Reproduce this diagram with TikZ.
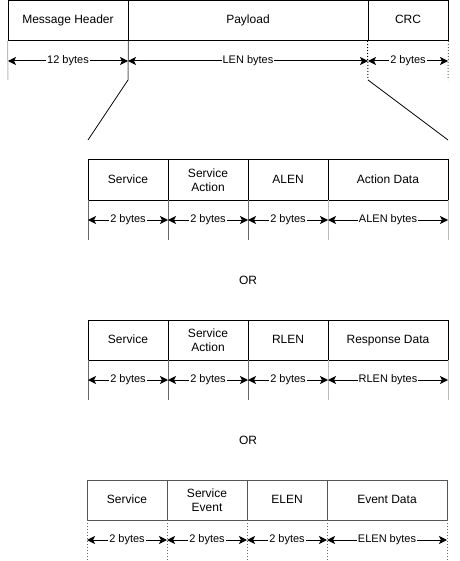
\documentclass[tikz,border=0pt]{standalone}
\usepackage{fontspec}
\setmainfont{Liberation Sans}
\usetikzlibrary{arrows.meta}
\definecolor{extdark}{HTML}{666666}
\definecolor{extlight}{HTML}{BBBBBB}
\definecolor{boxgray}{HTML}{555555}
\tikzset{
  cell/.style={draw=black, line width=1pt, minimum height=40pt, inner sep=1pt,
     font=\fontsize{12}{14}\selectfont, text height=8.6pt, text depth=2.6pt},
  cell2/.style={draw=black, line width=1pt, minimum height=40pt, inner sep=1pt, align=center,
     font=\fontsize{12}{14}\selectfont},
  cellg/.style={cell, draw=boxgray},
  cellgg/.style={cell2, draw=boxgray},
  dim/.style={line width=1pt, {Stealth[length=8pt,width=8pt,inset=2pt]}-{Stealth[length=8pt,width=8pt,inset=2pt]}},
  lbl/.style={fill=white, inner sep=1pt, font=\fontsize{11}{13}\selectfont, text height=8pt, text depth=2.4pt},
  extd/.style={draw=extdark, line width=1pt},
  extl/.style={draw=extlight, line width=1pt},
  extdot/.style={draw=black, line width=1pt, dotted},
  extdotg/.style={draw=extdark, line width=1pt, dotted},
  plain/.style={font=\fontsize{12}{14}\selectfont},
}
\begin{document}
\begin{tikzpicture}[x=1pt,y=-1pt]
\useasboundingbox (0,0) rectangle (459,561);
% ---------- top row
\node[cell, minimum width=120pt] (mh) at (68,20.5) {Message Header};
\node[cell, minimum width=240pt] (pl) at (248,20.5) {Payload};
\node[cell, minimum width=80pt] (crc) at (408,20.5) {CRC};
\coordinate (t0) at (8,80);
\coordinate (t1) at (128,80);
\coordinate (t2) at (368,80);
\coordinate (t3) at (448,80);
\draw[extl] (mh.south west) -- (t0);
\draw[extd] (mh.south east) -- (t1);
\draw[extdot] (crc.south west) -- (t2);
\draw[extdotg] (crc.south east) -- (t3);
\coordinate (ta0) at (8,61);
\coordinate (ta1) at (128,61);
\coordinate (ta2) at (368,61);
\coordinate (ta3) at (448,61);
\draw[dim] (ta0) -- node[lbl] {12 bytes} (ta1);
\draw[dim] (ta1) -- node[lbl] {LEN bytes} (ta2);
\draw[dim] (ta2) -- node[lbl] {2 bytes} (ta3);
% zoom lines
\coordinate (z0) at (88,140);
\coordinate (z1) at (448,140);
\draw[line width=0.8pt] (t1) -- (z0);
\draw[line width=0.8pt] (t2) -- (z1);
% ---------- block 2
\node[cell, minimum width=80pt] (a1) at (128,180) {Service};
\node[cell2, minimum width=80pt] (a2) at (208,180) {Service\\Action};
\node[cell, minimum width=80pt] (a3) at (288,180) {ALEN};
\node[cell, minimum width=120pt] (a4) at (388,180) {Action Data};
\foreach \x/\s in {88/extd,168/extd,248/extd,328/extl,448/extl}{
  \draw[\s] (\x,200) -- (\x,240);
}
\coordinate (aa0) at (88,220);
\coordinate (aa1) at (168,220);
\coordinate (aa2) at (248,220);
\coordinate (aa3) at (328,220);
\coordinate (aa4) at (448,220);
\draw[dim] (aa0) -- node[lbl] {2 bytes} (aa1);
\draw[dim] (aa1) -- node[lbl] {2 bytes} (aa2);
\draw[dim] (aa2) -- node[lbl] {2 bytes} (aa3);
\draw[dim] (aa3) -- node[lbl] {ALEN bytes} (aa4);
\node[plain] (or1) at (248,280) {OR};
% ---------- block 3
\node[cell, minimum width=80pt] (b1) at (128,340) {Service};
\node[cell2, minimum width=80pt] (b2) at (208,340) {Service\\Action};
\node[cell, minimum width=80pt] (b3) at (288,340) {RLEN};
\node[cell, minimum width=120pt] (b4) at (388,340) {Response Data};
\foreach \x/\s in {88/extd,168/extd,248/extd,328/extl,448/extl}{
  \draw[\s] (\x,360) -- (\x,400);
}
\coordinate (bb0) at (88,380);
\coordinate (bb1) at (168,380);
\coordinate (bb2) at (248,380);
\coordinate (bb3) at (328,380);
\coordinate (bb4) at (448,380);
\draw[dim] (bb0) -- node[lbl] {2 bytes} (bb1);
\draw[dim] (bb1) -- node[lbl] {2 bytes} (bb2);
\draw[dim] (bb2) -- node[lbl] {2 bytes} (bb3);
\draw[dim] (bb3) -- node[lbl] {RLEN bytes} (bb4);
\node[plain] (or2) at (248,440) {OR};
% ---------- block 4
\node[cellg, minimum width=80pt] (c1) at (127,500) {Service};
\node[cellgg, minimum width=80pt] (c2) at (207,500) {Service\\Event};
\node[cellg, minimum width=80pt] (c3) at (287,500) {ELEN};
\node[cellg, minimum width=120pt] (c4) at (387,500) {Event Data};
\foreach \x in {87,167,247,327,447}{
  \draw[extdotg] (\x,520) -- (\x,560);
}
\coordinate (cc0) at (87,540);
\coordinate (cc1) at (167,540);
\coordinate (cc2) at (247,540);
\coordinate (cc3) at (327,540);
\coordinate (cc4) at (447,540);
\draw[dim] (cc0) -- node[lbl] {2 bytes} (cc1);
\draw[dim] (cc1) -- node[lbl] {2 bytes} (cc2);
\draw[dim] (cc2) -- node[lbl] {2 bytes} (cc3);
\draw[dim] (cc3) -- node[lbl] {ELEN bytes} (cc4);
\end{tikzpicture}
\end{document}
